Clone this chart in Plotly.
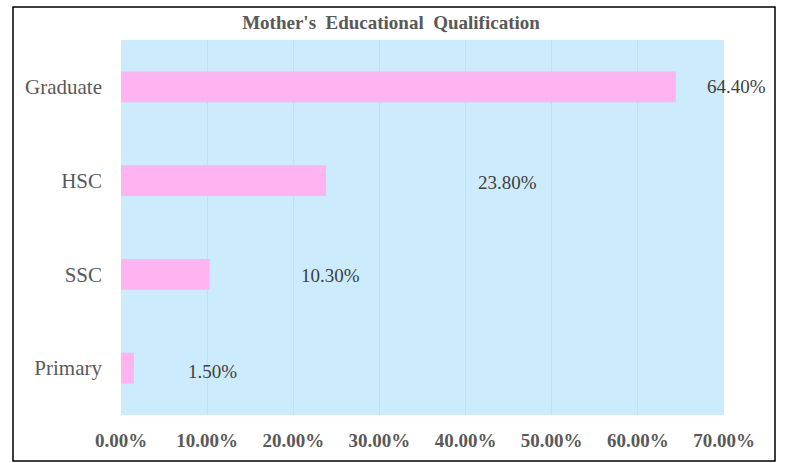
import plotly.graph_objects as go

categories = ["Primary", "SSC", "HSC", "Graduate"]
values = [0.015, 0.103, 0.238, 0.644]
label_texts = ["1.50%", "10.30%", "23.80%", "64.40%"]
tick_vals = [0.0, 0.1, 0.2, 0.3, 0.4, 0.5, 0.6, 0.7]
x_max = 0.7

# label placement (styling): offset in axis units from bar end, and vertical pixel shift
label_dx = [0.091, 0.140, 0.211, 0.070]
label_dy = [-3, -1, -2, 0]

W, H = 787, 463
L, R, T, B = 121, 724, 40, 415
SERIF = "Liberation Serif, Times New Roman, serif"

fig = go.Figure()
fig.add_trace(go.Bar(
    x=values, y=categories, orientation="h",
    marker=dict(color="#FFB3F0", line=dict(width=0)),
    width=0.33, hoverinfo="skip",
))

for c, v, t, dx, dy in zip(categories, values, label_texts, label_dx, label_dy):
    fig.add_annotation(x=(v + dx) / x_max, xref="paper", y=c, yref="y", text=t,
                       showarrow=False, xanchor="center", yanchor="middle", yshift=dy,
                       font=dict(family=SERIF, size=19, color="#404040"))

pw, ph = R - L, B - T
fig.add_shape(type="rect", xref="paper", yref="paper",
              x0=(13 - L) / pw, x1=(775 - L) / pw,
              y0=(B - 461) / ph, y1=(B - 7) / ph,
              line=dict(color="#000000", width=1.5), fillcolor="rgba(0,0,0,0)", layer="below")

fig.update_layout(
    width=W, height=H,
    margin=dict(l=L, r=W - R, t=T, b=H - B, pad=0),
    paper_bgcolor="white", plot_bgcolor="#CCEBFD",
    showlegend=False,
    title=dict(text="<b>Mother's  Educational  Qualification</b>", x=391 / W, xref="container",
               xanchor="center", y=1 - 22 / H, yref="container", yanchor="middle",
               font=dict(family=SERIF, size=19, color="#595959")),
    xaxis=dict(range=[0, x_max], tickvals=tick_vals, tickformat=".2%",
               showgrid=True, gridcolor="#D6D9DE", gridwidth=1, zeroline=False,
               showline=False, ticks="", ticklabelstandoff=12,
               tickfont=dict(family=SERIF, size=19, color="#595959", weight="bold")),
    yaxis=dict(categoryorder="array", categoryarray=categories, showgrid=False,
               zeroline=False, showline=False, ticks="", ticklabelstandoff=18,
               range=[-0.5, 3.5],
               tickfont=dict(family=SERIF, size=21, color="#595959")),
    font=dict(family=SERIF),
)

fig.write_html("out.html")
